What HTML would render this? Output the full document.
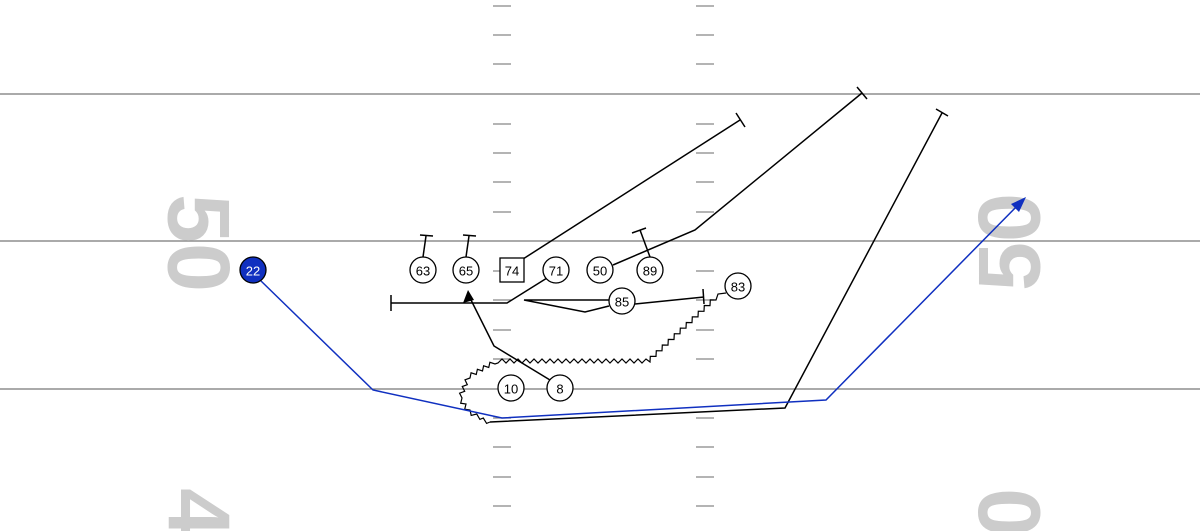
<!DOCTYPE html>
<html><head><style>html,body{margin:0;padding:0;background:#fff;width:1200px;height:531px;overflow:hidden}svg{display:block}</style></head>
<body>
<svg width="1200" height="531" viewBox="0 0 1200 531" xmlns="http://www.w3.org/2000/svg" font-family="Liberation Sans, sans-serif">
<g stroke="#777" stroke-width="1.3">
<line x1="0" y1="94" x2="1200" y2="94"/><line x1="0" y1="241" x2="1200" y2="241"/><line x1="0" y1="389" x2="1200" y2="389"/>
</g>
<g stroke="#888" stroke-width="1.3">
<path d="M493 6h18M696 6h18M493 35h18M696 35h18M493 64h18M696 64h18M493 124h18M696 124h18M493 153h18M696 153h18M493 182h18M696 182h18M493 212h18M696 212h18M493 271h18M696 271h18M493 300h18M696 300h18M493 330h18M696 330h18M493 359h18M696 359h18M493 418h18M696 418h18M493 447h18M696 447h18M493 477h18M696 477h18M493 506h18M696 506h18"/>
</g>
<g fill="#ccc" font-weight="bold" font-size="88" text-anchor="middle" dominant-baseline="central">
<text transform="translate(199,243) rotate(90)">50</text>
<text transform="translate(1009,242) rotate(-90)">50</text>
<text transform="translate(199,537) rotate(90)">40</text>
<text transform="translate(1009,537) rotate(-90)">40</text>
</g>
<g fill="none" stroke="#000" stroke-width="1.5">
<polyline points="423,257 426,236"/><line x1="420" y1="235" x2="433" y2="236"/>
<polyline points="466,257 469,236"/><line x1="463" y1="235" x2="476" y2="236"/>
<polyline points="523,259 740,120"/><line x1="736" y1="113" x2="745" y2="127"/>
<polyline points="613,265 695,230 862,93"/><line x1="857" y1="87" x2="867" y2="99"/>
<polyline points="650,257 640,230"/><line x1="632" y1="233" x2="646" y2="228"/>
<polyline points="547,278 507,303 391,303"/><line x1="391" y1="295" x2="391" y2="311"/>
<polyline points="609,300 524,300 585,312 609,306"/>
<polyline points="635,304 704,297"/><line x1="703" y1="289" x2="704" y2="304"/>
<polyline points="550,380 494,346 470,298"/>
<polyline points="490,422 785,408 942,113"/><line x1="936" y1="109" x2="948" y2="116"/>
<polyline stroke-width="1.2" points="726,293 718,294 716,300 710.3,299.9 710,305.6 704.3,305.5 704,311.3 698.3,311.2 698,316.9 692.3,316.8 692,322.6 686.3,322.5 686,328.2 680.3,328.1 680,333.8 674.3,333.7 674,339.5 668.3,339.4 668,345.1 662.3,345 662,350.8 656.3,350.7 656,356.4 650.3,356.3 650,362 646,359 642,363 638,359 634,363 630,359 626,363 622,359 618,363 614,359 610,363 606,359 602,363 598,359 594,363 590,359 586,363 582,359 578,363 574,359 570,363 566,359 562,363 558,359 554,363 550,359 546,363 542,359 538,363 534,359 530,363 526,359 522,363 518,359 514,363 510,359 506,363 502,359 498,363 495,364 489.9,362.3 488.75,367.5 483.6,365.8 482.5,371 477.4,369.3 476.25,374.5 471.1,372.8 470,378 465,379.8 467.3,384.7 462.3,386.5 464.7,391.3 459.6,393.2 462,398 460.7,403.2 466,404 464.7,409.2 470,410 471.2,415.4 476.7,414 479.9,419.4 483.3,418 486.6,423.4 490,422"/>
</g>
<polygon points="468,290 463,303 474,300" fill="#000"/>
<polyline points="260,280 373,390 502,418 826,400 1018,205" fill="none" stroke="#1030c0" stroke-width="1.5"/>
<polygon points="1026,197 1011,204 1019,212" fill="#1030c0"/>
<g stroke="#000" stroke-width="1.3" fill="#fff" font-size="13" text-anchor="middle" dominant-baseline="central">
<circle cx="423" cy="270" r="13"/><circle cx="466" cy="270" r="13"/><rect x="500" y="258" width="24" height="24"/>
<circle cx="556" cy="270" r="13"/><circle cx="600" cy="270" r="13"/><circle cx="650" cy="270" r="13"/>
<circle cx="622" cy="301" r="13"/><circle cx="738" cy="286" r="13"/><circle cx="511" cy="388" r="13"/><circle cx="560" cy="388" r="13"/>
<circle cx="253" cy="270" r="13" fill="#1030c0"/>
<g stroke="none" fill="#000">
<text x="423" y="271">63</text><text x="466" y="271">65</text><text x="512" y="271">74</text><text x="556" y="271">71</text>
<text x="600" y="271">50</text><text x="650" y="271">89</text><text x="622" y="302">85</text><text x="738" y="287">83</text>
<text x="511" y="389">10</text><text x="560" y="389">8</text><text x="253" y="271" fill="#fff">22</text>
</g></g>
</svg>
</body></html>
